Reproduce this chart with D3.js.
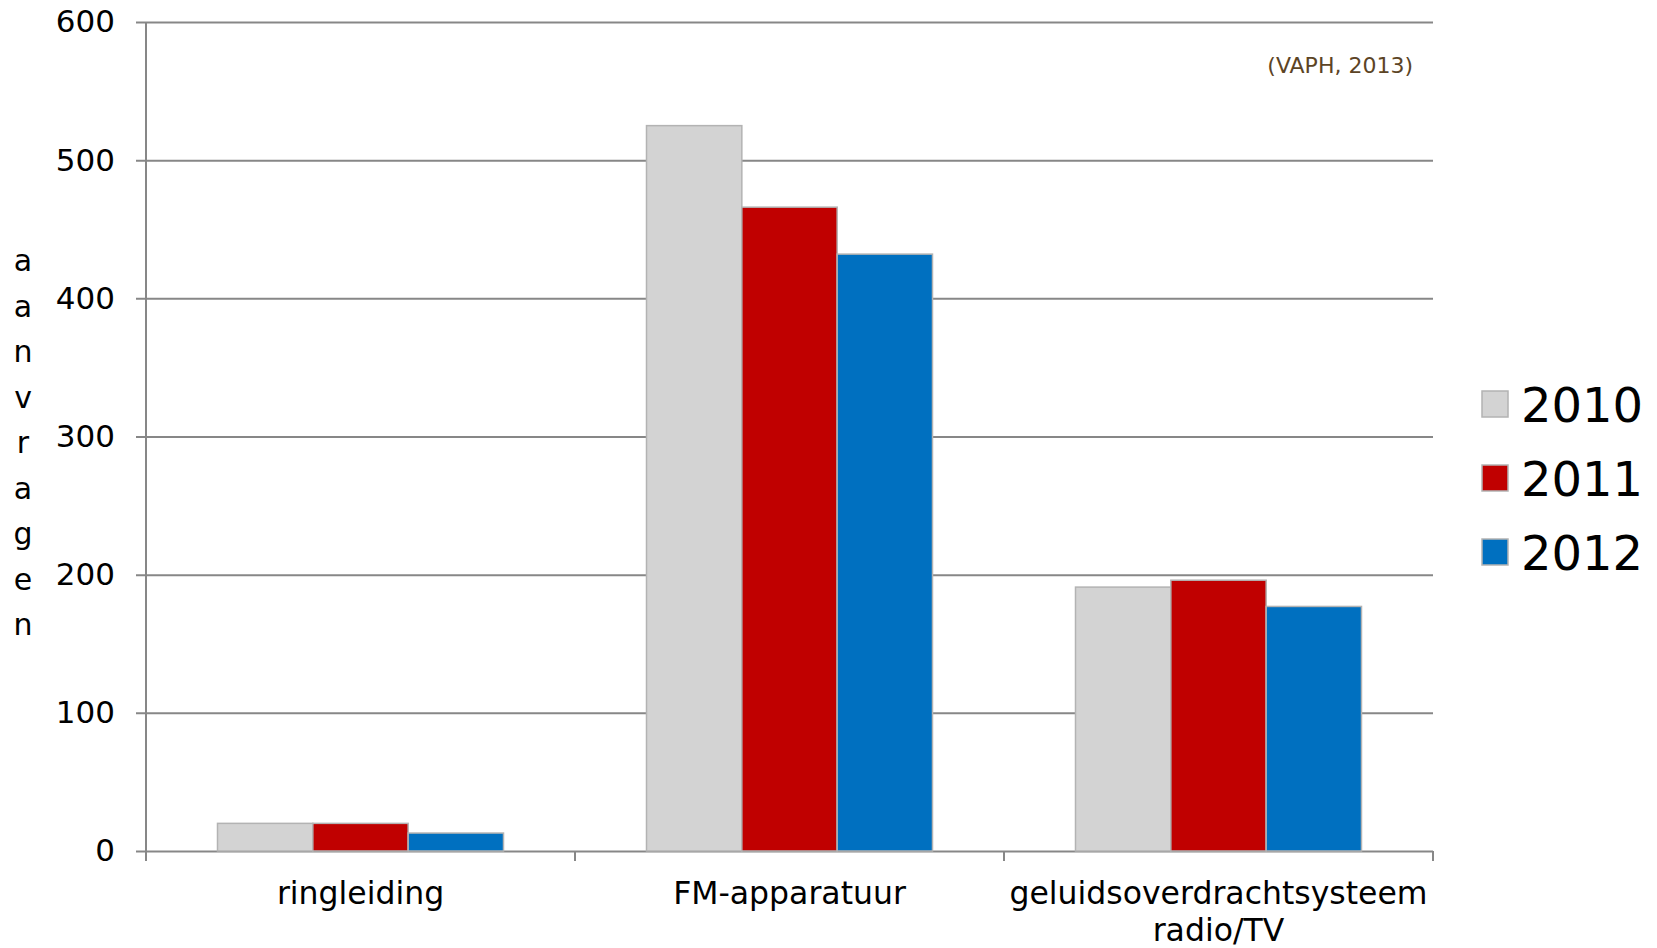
<!DOCTYPE html>
<html>
<head>
<meta charset="utf-8">
<script src="https://cdn.jsdelivr.net/npm/d3@7"></script>
<style>
  body { margin: 0; background: #fff; }
  svg { display: block; font-family: "DejaVu Sans", Verdana, sans-serif; }
</style>
</head>
<body>
<div id="chart"></div>
<script>
// categorieen en reeksen (aantal aanvragen per jaar)
var categories = ["ringleiding", "FM-apparatuur", "geluidsoverdrachtsysteem radio/TV"];
var categoryLines = [["ringleiding"], ["FM-apparatuur"], ["geluidsoverdrachtsysteem", "radio/TV"]];
var years = ["2010", "2011", "2012"];
var values2010 = [20, 525, 191];
var values2011 = [20, 466, 196];
var values2012 = [13, 432, 177];
var yTicks = [0, 100, 200, 300, 400, 500, 600];
var colors = ["#d3d3d3", "#c00000", "#0070c0"];
var yTitle = "aanvragen";
var source = "(VAPH, 2013)";

var series = [values2010, values2011, values2012];

var W = 1657, H = 948;
var margin = {top: 22, right: 224, bottom: 97, left: 146},
    width = W - margin.left - margin.right,
    height = H - margin.top - margin.bottom;

var svg = d3.select("#chart").append("svg")
    .attr("width", W)
    .attr("height", H)
  .append("g")
    .attr("transform", "translate(" + margin.left + "," + margin.top + ")");

var x0 = d3.scaleBand()
    .domain(categories)
    .range([0, width])
    .paddingInner(1 / 3)
    .paddingOuter(1 / 6);

var x1 = d3.scaleBand()
    .domain(years)
    .range([0, x0.bandwidth()]);

var y = d3.scaleLinear()
    .domain([0, 600])
    .range([height, 0]);

var grey = "#878787";

// y-as met rasterlijnen
var yAxis = svg.append("g")
    .call(d3.axisLeft(y).tickValues(yTicks).tickSize(0).tickPadding(31));
yAxis.select(".domain").remove();
yAxis.selectAll(".tick line")
    .attr("x1", -10)
    .attr("x2", width)
    .attr("stroke", grey)
    .attr("stroke-width", 2);
yAxis.selectAll(".tick text")
    .attr("font-size", 31)
    .attr("font-family", "DejaVu Sans, Verdana, sans-serif")
    .attr("fill", "#000");

// verticale as
svg.append("line")
    .attr("x1", 0).attr("x2", 0)
    .attr("y1", 0).attr("y2", height + 10)
    .attr("stroke", grey)
    .attr("stroke-width", 2);

// x-as tickjes tussen de categorieen
var step = x0.step();
svg.selectAll(".xtick")
    .data(d3.range(categories.length + 1))
    .enter()
    .append("line")
    .attr("class", "xtick")
    .attr("x1", function(i) { return i * step; })
    .attr("x2", function(i) { return i * step; })
    .attr("y1", height)
    .attr("y2", height + 10)
    .attr("stroke", grey)
    .attr("stroke-width", 2);

// staven
var groups = svg.selectAll(".group")
    .data(categories)
    .enter()
    .append("g")
    .attr("class", "group")
    .attr("transform", function(d) { return "translate(" + x0(d) + ",0)"; });

groups.selectAll("rect")
    .data(function(d, ci) {
        return years.map(function(yr, si) { return {year: yr, value: series[si][ci], color: colors[si]}; });
    })
    .enter()
    .append("rect")
    .attr("x", function(d) { return x1(d.year); })
    .attr("y", function(d) { return y(d.value); })
    .attr("width", x1.bandwidth())
    .attr("height", function(d) { return height - y(d.value); })
    .attr("fill", function(d) { return d.color; })
    .attr("stroke", "#b3b3b3")
    .attr("stroke-width", 1.5);

// categorie labels
var labels = svg.selectAll(".catlabel")
    .data(categories)
    .enter()
    .append("text")
    .attr("class", "catlabel")
    .attr("text-anchor", "middle")
    .attr("font-size", 31.5)
    .attr("fill", "#000")
    .attr("transform", function(d) { return "translate(" + (x0(d) + x0.bandwidth() / 2) + "," + (height + 53) + ")"; });

labels.selectAll("tspan")
    .data(function(d, i) { return categoryLines[i]; })
    .enter()
    .append("tspan")
    .attr("x", 0)
    .attr("dy", function(d, i) { return i === 0 ? 0 : 37; })
    .text(function(d) { return d; });

// y-as titel, letters onder elkaar
var t = svg.append("text")
    .attr("font-size", 30)
    .attr("fill", "#000")
    .attr("text-anchor", "middle");
t.selectAll("tspan")
    .data(yTitle.split(""))
    .enter()
    .append("tspan")
    .attr("x", 23 - margin.left)
    .attr("y", function(d, i) { return 271 - margin.top + i * 45.5; })
    .text(function(d) { return d; });

// bron
svg.append("text")
    .attr("x", 1413 - margin.left)
    .attr("y", 73 - margin.top)
    .attr("text-anchor", "end")
    .attr("font-size", 22)
    .attr("fill", "#5c4425")
    .text(source);

// legenda
var legend = svg.selectAll(".legend")
    .data(years)
    .enter()
    .append("g")
    .attr("class", "legend")
    .attr("transform", function(d, i) { return "translate(" + (1482 - margin.left) + "," + (391 - margin.top + i * 74) + ")"; });

legend.append("rect")
    .attr("width", 26)
    .attr("height", 26)
    .attr("fill", function(d, i) { return colors[i]; })
    .attr("stroke", "#b3b3b3")
    .attr("stroke-width", 1.5);

legend.append("text")
    .attr("x", 39)
    .attr("y", 31)
    .attr("font-size", 48)
    .attr("fill", "#000")
    .text(function(d) { return d; });
</script>
</body>
</html>
